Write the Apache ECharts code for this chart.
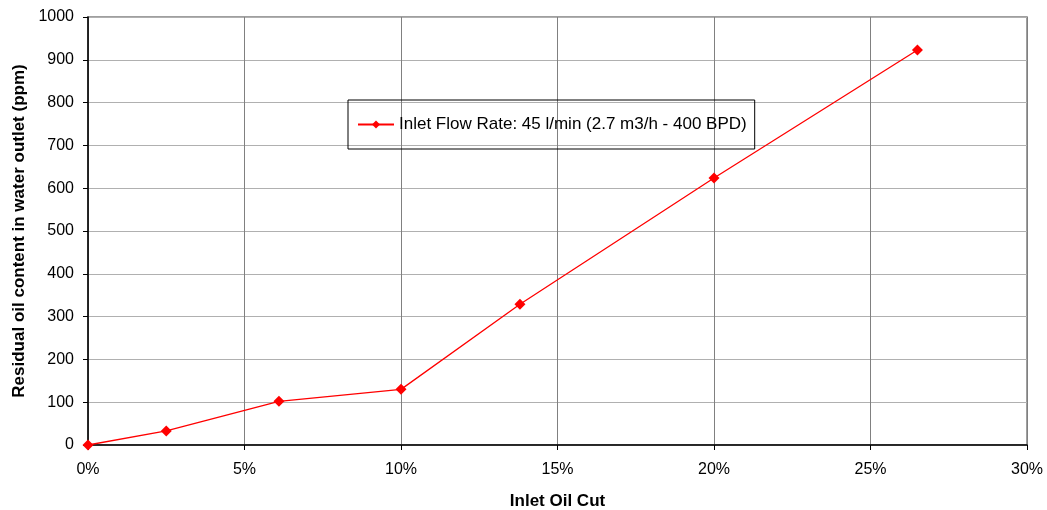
<!DOCTYPE html>
<html>
<head>
<meta charset="utf-8">
<script src="https://cdn.jsdelivr.net/npm/echarts@6/dist/echarts.min.js"></script>
<style>html,body{margin:0;padding:0;background:#fff;}#c{width:1047px;height:510px;}</style>
</head>
<body>
<div id="c"></div>
<script>
const seriesName = 'Inlet Flow Rate: 45 l/min (2.7 m3/h - 400 BPD)';
const oilCut = [0, 2.5, 6.1, 10, 13.8, 20, 26.5];
const residualOil = [0, 33, 102, 130, 329, 624, 923];
const xTitle = 'Inlet Oil Cut';
const yTitle = 'Residual oil content in water outlet (ppm)';

const chart = echarts.init(document.getElementById('c'));
const font = 'Liberation Sans, Arial, sans-serif';
chart.setOption({
  animation: false,
  backgroundColor: '#fff',
  grid: {left: 88, right: 20, top: 17, bottom: 65, show: true, borderColor: '#808080', borderWidth: 1.5,
         containLabel: false, outerBoundsMode: 'none'},
  legend: {
    left: 348, top: 100,
    padding: [16, 8, 16, 9],
    borderColor: '#000', borderWidth: 1,
    itemWidth: 36, itemHeight: 10, itemGap: 4,
    textStyle: {fontFamily: font, fontSize: 17, color: '#000', padding: [0, 0, 0, 0]},
    data: [seriesName]
  },
  xAxis: {
    type: 'value', min: 0, max: 30, interval: 5,
    name: xTitle, nameLocation: 'middle', nameGap: 48,
    nameTextStyle: {fontFamily: font, fontSize: 17, fontWeight: 'bold', color: '#000'},
    axisLine: {lineStyle: {color: '#000', width: 1.5}},
    axisTick: {show: true, length: 5, lineStyle: {color: '#000'}},
    axisLabel: {formatter: '{value}%', fontFamily: font, fontSize: 16, color: '#000', margin: 17},
    splitLine: {show: true, lineStyle: {color: '#808080', width: 1}}
  },
  yAxis: {
    type: 'value', min: 0, max: 1000, interval: 100,
    name: yTitle, nameLocation: 'middle', nameGap: 59, nameRotate: 90,
    nameTextStyle: {fontFamily: font, fontSize: 17, fontWeight: 'bold', color: '#000'},
    axisLine: {show: true, lineStyle: {color: '#000', width: 1.5}},
    axisTick: {show: true, length: 5, lineStyle: {color: '#000'}},
    axisLabel: {formatter: function (v) { return String(v); }, fontFamily: font, fontSize: 16, color: '#000', margin: 14},
    splitLine: {show: true, lineStyle: {color: '#b0b0b0', width: 1}}
  },
  series: [{
    name: seriesName, type: 'line',
    data: oilCut.map((x, i) => [x, residualOil[i]]),
    symbol: 'diamond', symbolSize: 11,
    itemStyle: {color: '#ff0000'},
    lineStyle: {color: '#ff0000', width: 1.3}
  }]
});
</script>
</body>
</html>
